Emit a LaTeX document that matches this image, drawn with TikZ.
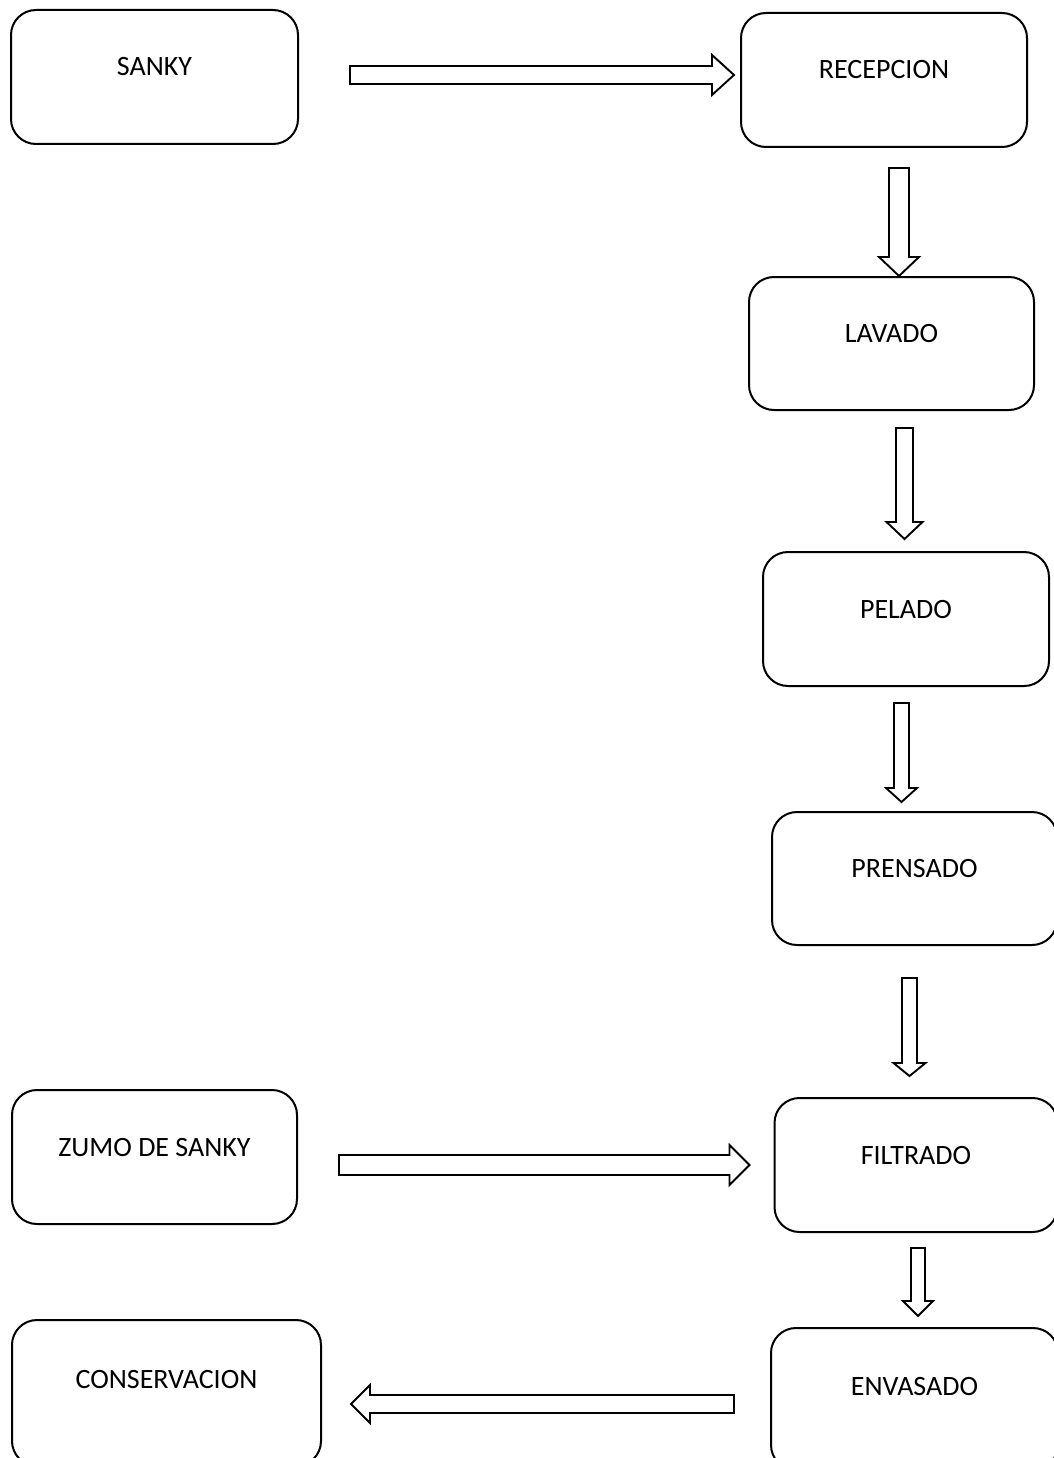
\documentclass[tikz,border=0pt]{standalone}
\usepackage{fontspec}
\setmainfont{Carlito}
\usepackage{tikz}
\usetikzlibrary{calc,positioning}

\tikzset{
  caja/.style={draw, line width=2pt, rounded corners=25pt, minimum width=286pt,
    minimum height=134pt, text height=18pt, text depth=20pt,
    font=\fontsize{28}{34}\selectfont},
  % hollow block arrow: half shaft, half head, head length
  flecha/.style n args={3}{line width=1.9pt, to path={
    let \p1=(\tikztostart), \p2=(\tikztotarget), \p3=($(\p2)!#3!(\p1)$) in
    ($(\p1)!#1!90:(\p2)$) -- ($(\p3)!#1!90:(\p2)$) -- ($(\p3)!#2!90:(\p2)$) -- (\p2)
    -- ($(\p3)!#2!-90:(\p2)$) -- ($(\p3)!#1!-90:(\p2)$) -- ($(\p1)!#1!-90:(\p2)$) -- cycle}}
}

\begin{document}
\begin{tikzpicture}[x=1pt, y=-1pt]
    \useasboundingbox (0,0) rectangle (1054,1458);
    \clip (0,0) rectangle (1054,1458);

    % Boxes
    \node[caja, minimum width=287pt] (sanky) at (154.5,77) {SANKY};
    \node[caja] (recepcion) at (884,80) {RECEPCION};
    \node[caja, minimum width=285pt, minimum height=133pt] (lavado) at (891.5,343.5) {LAVADO};
    \node[caja] (pelado) at (906,619) {PELADO};
    \node[caja, minimum width=285pt, minimum height=133pt] (prensado) at (914.5,878.5) {PRENSADO};
    \node[caja, minimum width=285pt] (zumo) at (154.5,1157) {ZUMO DE SANKY};
    \node[caja, minimum width=283pt] (filtrado) at (916,1165) {FILTRADO};
    \node[caja, minimum width=287pt, minimum height=142pt, text depth=26pt] (envasado) at (914.5,1399) {ENVASADO};
    \node[caja, minimum width=309pt, minimum height=146pt, text depth=28pt] (conservacion) at (166.5,1393) {CONSERVACION};

    % Block arrows
    \draw[flecha={9pt}{20pt}{22pt}] ($(sanky.east)+(51,-2)$) to ($(recepcion.west)+(-6,-5)$);
    \draw[flecha={10pt}{20pt}{19pt}] ($(recepcion.south)+(15,20)$) to ($(lavado.north)+(7.5,0)$);
    \draw[flecha={8.5pt}{18pt}{17pt}] ($(lavado.south)+(13,17)$) to ($(pelado.north)+(-1.5,-12)$);
    \draw[flecha={7.5pt}{15.5pt}{14pt}] ($(pelado.south)+(-4.5,16)$) to ($(prensado.north)+(-13,-9)$);
    \draw[flecha={7.5pt}{16pt}{13pt}] ($(prensado.south)+(-5,32)$) to ($(filtrado.north)+(-6.5,-21)$);
    \draw[flecha={10pt}{20pt}{20pt}] ($(zumo.east)+(41,8)$) to ($(filtrado.west)+(-24,0)$);
    \draw[flecha={7pt}{15pt}{15pt}] ($(filtrado.south)+(2,15)$) to ($(envasado.north)+(3.5,-11)$);
    \draw[flecha={9pt}{19pt}{19pt}] ($(envasado.west)+(-36,5)$) to ($(conservacion.east)+(29,11)$);
\end{tikzpicture}
\end{document}
